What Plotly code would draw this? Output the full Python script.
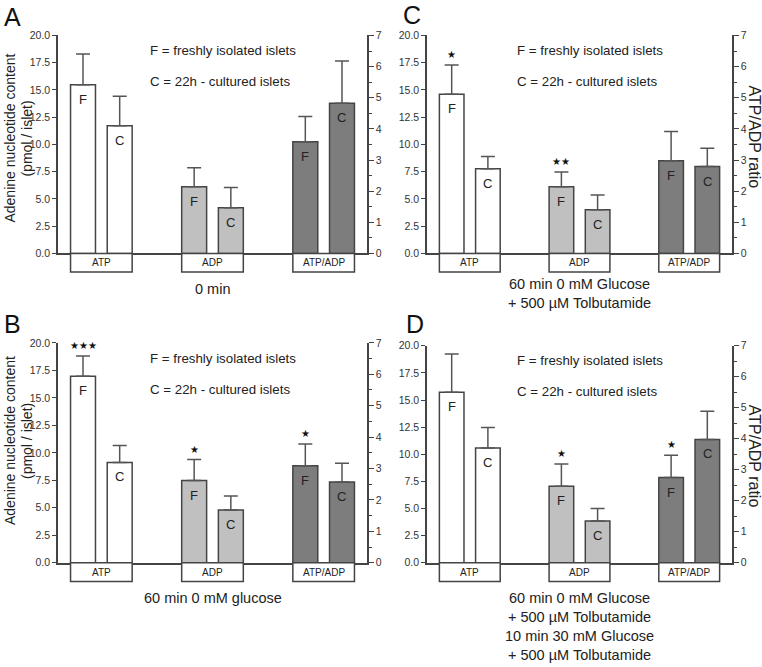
import plotly.graph_objects as go

# ---------------- data ----------------
categories = ["ATP", "ADP", "ATP/ADP"]
panel_letters = ["A", "C", "B", "D"]

# values (ATP, ADP in pmol/islet; ATP/ADP ratio on right axis)
fresh_A = [15.47, 6.12, 3.59]
fresh_A_err = [2.82, 1.74, 0.81]
cult_A = [11.72, 4.20, 4.82]
cult_A_err = [2.70, 1.86, 1.36]

fresh_C = [14.60, 6.12, 2.98]
fresh_C_err = [2.70, 1.35, 0.94]
cult_C = [7.77, 4.02, 2.79]
cult_C_err = [1.13, 1.35, 0.59]

fresh_B = [16.96, 7.48, 3.09]
fresh_B_err = [1.84, 1.91, 0.69]
cult_B = [9.12, 4.80, 2.57]
cult_B_err = [1.55, 1.28, 0.60]

fresh_D = [15.72, 7.05, 2.75]
fresh_D_err = [3.53, 2.05, 0.72]
cult_D = [10.57, 3.86, 3.98]
cult_D_err = [1.90, 1.14, 0.91]

stars_A = ["", "", ""]
stars_C = ["★", "★★", ""]
stars_B = ["★★★", "★", "★"]
stars_D = ["", "★", "★"]

captions = [
    "0 min",
    "60 min 0 mM Glucose<br>+ 500 µM Tolbutamide",
    "60 min 0 mM glucose",
    "60 min 0 mM Glucose<br>+ 500 µM Tolbutamide<br>10 min 30 mM Glucose<br>+ 500 µM Tolbutamide",
]
left_title_lines = ["Adenine nucleotide content", "(pmol / islet)"]
right_title = "ATP/ADP ratio"
left_ticks = [0.0, 2.5, 5.0, 7.5, 10.0, 12.5, 15.0, 17.5, 20.0]
right_ticks = [0, 1, 2, 3, 4, 5, 6, 7]

panels = [
    (fresh_A, fresh_A_err, cult_A, cult_A_err, stars_A),
    (fresh_C, fresh_C_err, cult_C, cult_C_err, stars_C),
    (fresh_B, fresh_B_err, cult_B, cult_B_err, stars_B),
    (fresh_D, fresh_D_err, cult_D, cult_D_err, stars_D),
]

# ---------------- layout geometry (px) ----------------
W, H = 762, 667
boxes = [(58, 367, 30, 252), (427, 732, 30, 252), (58, 367, 343, 567), (427, 732, 346, 567)]
letter_pos = [(2, -5), (401, -7), (2, 308), (404, 308)]
caption_top = [278, 273, 593, 593]
left_title_y = [135, None, 443, None]
right_title_y = [None, 133, None, 458]

FONT = "Liberation Sans, Arial, Helvetica, sans-serif"
EDGE = "#444444"
ERR = "#555555"
TXT = "#222222"
fills = ["#ffffff", "#c0c0c0", "#7d7d7d"]
BARGAP = 0.34
BARGROUPGAP = 0.32
slot = (1 - BARGAP) / 2
half_group = slot - slot * BARGROUPGAP / 2

fig = go.Figure()
layout = dict(
    width=W, height=H, margin=dict(l=0, r=0, t=0, b=0),
    paper_bgcolor="white", plot_bgcolor="rgba(0,0,0,0)",
    showlegend=False, barmode="group", bargap=BARGAP, bargroupgap=BARGROUPGAP,
    font=dict(family=FONT, color=TXT),
)
annotations = []
shapes = []

for k, (fv, fe, cv, ce, st) in enumerate(panels):
    L, R, T, B = boxes[k]
    xid = "" if k == 0 else str(k + 1)
    y1id = "" if k == 0 else str(2 * k + 1)
    y2id = str(2 * k + 2)
    xref, yref, y2ref = "x" + xid, "y" + y1id, "y" + y2id

    for vals, errs, name in ((fv, fe, "F"), (cv, ce, "C")):
        fig.add_trace(go.Bar(
            x=categories[:2], y=vals[:2], xaxis=xref, yaxis=yref, name=name,
            marker=dict(color=fills[:2], line=dict(color=EDGE, width=1.5)),
            error_y=dict(type="data", symmetric=False, array=errs[:2], arrayminus=[0, 0],
                         color=ERR, thickness=1.5, width=7),
        ))
        fig.add_trace(go.Bar(
            x=categories[2:], y=vals[2:], xaxis=xref, yaxis=y2ref, name=name,
            marker=dict(color=fills[2:], line=dict(color=EDGE, width=1.5)),
            error_y=dict(type="data", symmetric=False, array=errs[2:], arrayminus=[0],
                         color=ERR, thickness=1.5, width=7),
        ))

    layout["xaxis" + xid] = dict(
        domain=[L / W, R / W], anchor=yref, range=[-0.39, 2.39], type="category",
        categoryorder="array", categoryarray=categories,
        showticklabels=False, ticks="", showgrid=False, zeroline=False,
        showline=True, linecolor=EDGE, linewidth=1.5,
    )
    layout["yaxis" + y1id] = dict(
        domain=[1 - B / H, 1 - T / H], anchor=xref, range=[0, 20], tickvals=left_ticks,
        ticktext=["%.1f" % t for t in left_ticks],
        ticks="outside", ticklen=4, tickwidth=1, tickcolor=EDGE,
        showline=True, linecolor=EDGE, linewidth=1.5, showgrid=False, zeroline=False,
        tickfont=dict(size=10.5, color="#333333", family=FONT),
    )
    layout["yaxis" + y2id] = dict(
        overlaying=yref, anchor=xref, side="right", range=[0, 7], tickvals=right_ticks,
        ticks="outside", ticklen=5, tickwidth=1, tickcolor=EDGE,
        minor=dict(dtick=0.5, ticks="outside", ticklen=3, tickcolor=EDGE),
        showline=True, linecolor=EDGE, linewidth=1.5, showgrid=False, zeroline=False,
        tickfont=dict(size=10.5, color="#333333", family=FONT),
    )

    ph = B - T
    for i, c in enumerate(categories):
        shapes.append(dict(type="rect", xref=xref, yref=yref + " domain",
                           x0=i - half_group, x1=i + half_group, y0=-19 / ph, y1=0,
                           line=dict(color=EDGE, width=1.5), fillcolor="white", layer="above"))
        annotations.append(dict(xref=xref, yref=yref + " domain", x=i, y=-9.5 / ph,
                                text=c, showarrow=False, yanchor="middle",
                                font=dict(size=10, color=TXT)))

    for i in range(3):
        ar = yref if i < 2 else y2ref
        for vals, nm, sgn in ((fv, "F", -1), (cv, "C", 1)):
            annotations.append(dict(xref=xref, yref=ar, x=i + sgn * slot / 2, y=vals[i],
                                    text=nm, showarrow=False, yanchor="top", yshift=-5,
                                    font=dict(size=13, color=TXT)))
        if st[i]:
            annotations.append(dict(xref=xref, yref=ar, x=i - slot / 2, y=fv[i] + fe[i],
                                    text=st[i], showarrow=False, yanchor="bottom", yshift=3,
                                    font=dict(size=10, color="#111111")))

    annotations.append(dict(xref=xref + " domain", yref=yref + " domain", x=0.29, y=0.93,
                            text="F = freshly isolated islets", showarrow=False,
                            xanchor="left", yanchor="middle", font=dict(size=13.3, color=TXT)))
    annotations.append(dict(xref=xref + " domain", yref=yref + " domain", x=0.29, y=0.79,
                            text="C = 22h - cultured islets", showarrow=False,
                            xanchor="left", yanchor="middle", font=dict(size=13.3, color=TXT)))
    annotations.append(dict(xref="paper", yref="paper", x=(L + R) / 2 / W, y=1 - caption_top[k] / H,
                            text=captions[k], showarrow=False, xanchor="center", yanchor="top",
                            font=dict(size=14.5, color=TXT)))
    lx, ly = letter_pos[k]
    annotations.append(dict(xref="paper", yref="paper", x=lx / W, y=1 - ly / H,
                            text=panel_letters[k], showarrow=False, xanchor="left", yanchor="top",
                            font=dict(size=25, color="#111111")))
    if left_title_y[k] is not None:
        for j, line in enumerate(left_title_lines):
            annotations.append(dict(xref="paper", yref="paper", x=(10 + 17 * j) / W,
                                    y=1 - left_title_y[k] / H, text=line, showarrow=False,
                                    textangle=-90, xanchor="center", yanchor="middle",
                                    font=dict(size=14, color=TXT)))
    if right_title_y[k] is not None:
        annotations.append(dict(xref="paper", yref="paper", x=754 / W, y=1 - right_title_y[k] / H,
                                text=right_title, showarrow=False,
                                textangle=90, xanchor="center", yanchor="middle",
                                font=dict(size=16, color=TXT)))

layout["annotations"] = annotations
layout["shapes"] = shapes
fig.update_layout(**layout)
fig.write_html("out.html", config={"displayModeBar": False},
               post_script="document.body.style.margin='0';document.body.style.overflow='hidden';")
